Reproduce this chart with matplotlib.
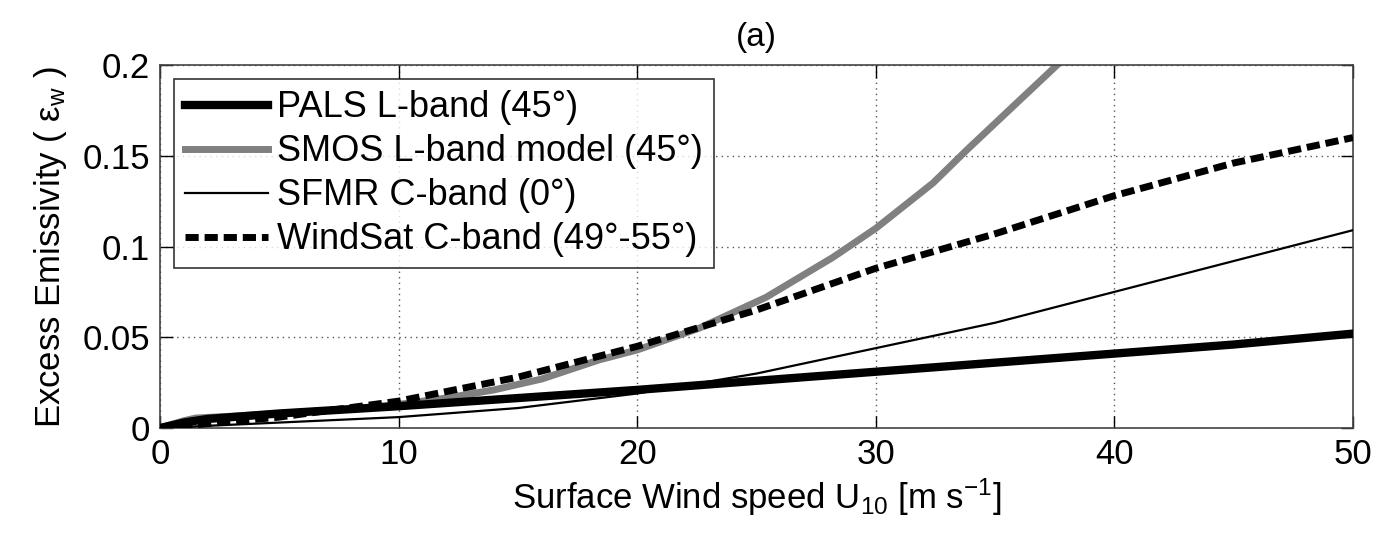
import matplotlib
matplotlib.use("Agg")
import matplotlib.pyplot as plt

plt.rcParams['font.family'] = ['Liberation Sans', 'DejaVu Sans']
plt.rcParams['mathtext.fontset'] = 'custom'
plt.rcParams['mathtext.rm'] = 'Liberation Sans'
plt.rcParams['mathtext.it'] = 'Liberation Sans'
plt.rcParams['mathtext.default'] = 'regular'

# Data
pals_u = [0, 1, 2, 5, 10, 15, 20, 25, 30, 35, 40, 45, 50]
pals_e = [0, 0.003, 0.005, 0.008, 0.012, 0.0165, 0.021, 0.026, 0.031, 0.036, 0.041, 0.046, 0.052]

smos_u = [0, 1, 1.5, 3, 5, 8, 10, 12, 14, 16, 18.4, 20, 22.6, 25.4, 28.2, 30, 32.4, 33.8, 35.9, 37.6, 38]
smos_e = [0, 0.004, 0.0055, 0.0065, 0.008, 0.0105, 0.013, 0.0165, 0.021, 0.027, 0.0375, 0.043,
          0.055, 0.072, 0.094, 0.110, 0.135, 0.153, 0.179, 0.200, 0.205]

sfmr_u = [0, 5, 10, 15, 20, 25, 30, 35, 40, 45, 50]
sfmr_e = [0, 0.003, 0.006, 0.011, 0.019, 0.030, 0.044, 0.058, 0.075, 0.092, 0.109]

ws_u = [0, 5, 10, 15, 20, 25, 30, 35, 40, 45, 50]
ws_e = [0, 0.006, 0.0148, 0.028, 0.045, 0.065, 0.088, 0.107, 0.128, 0.146, 0.160]

labels = ['PALS L-band (45°)', 'SMOS L-band model (45°)', 'SFMR C-band (0°)',
          'WindSat C-band (49°-55°)']

fig = plt.figure(figsize=(13.78, 5.40), dpi=100)
ax = fig.add_axes([160/1378, 1-428/540, (1353-160)/1378, (428-65)/540])

ax.plot(pals_u, pals_e, color='black', lw=6, label=labels[0], zorder=3,
        solid_joinstyle='round')
ax.plot(smos_u, smos_e, color='#808080', lw=5, label=labels[1], zorder=2,
        solid_joinstyle='round')
ax.plot(sfmr_u, sfmr_e, color='black', lw=1.6, label=labels[2], zorder=4)
ax.plot(ws_u, ws_e, color='black', lw=5, ls=(0, (1.9, 0.85)), label=labels[3], zorder=5)

ax.set_xlim(0, 50)
ax.set_ylim(0, 0.2)
ax.set_xticks([0, 10, 20, 30, 40, 50])
ax.set_yticks([0, 0.05, 0.1, 0.15, 0.2])
ax.set_yticklabels(['0', '0.05', '0.1', '0.15', '0.2'])
ax.grid(True, ls=(0, (1, 3)), color='#555555', lw=1)
ax.tick_params(direction='in', length=9, width=1, labelsize=25, top=True, right=True, pad=7)
for s in ax.spines.values():
    s.set_color('#444444')
    s.set_linewidth(1.2)

ax.set_title('(a)', fontsize=24, pad=14)
ax.set_xlabel(r'Surface Wind speed U$_{10}$ [m s$^{-1}$]', fontsize=25, labelpad=4)
ax.set_ylabel(r'Excess Emissivity ( $\varepsilon_{w}$ )', fontsize=25, labelpad=10)

leg = ax.legend(loc='upper left', fontsize=26, frameon=True, fancybox=False,
                edgecolor='black', handlelength=2.3, handletextpad=0.25,
                borderaxespad=0.4, borderpad=0.3, labelspacing=0.25)
leg.get_frame().set_linewidth(1.2)

fig.savefig('out.png', dpi=100)
